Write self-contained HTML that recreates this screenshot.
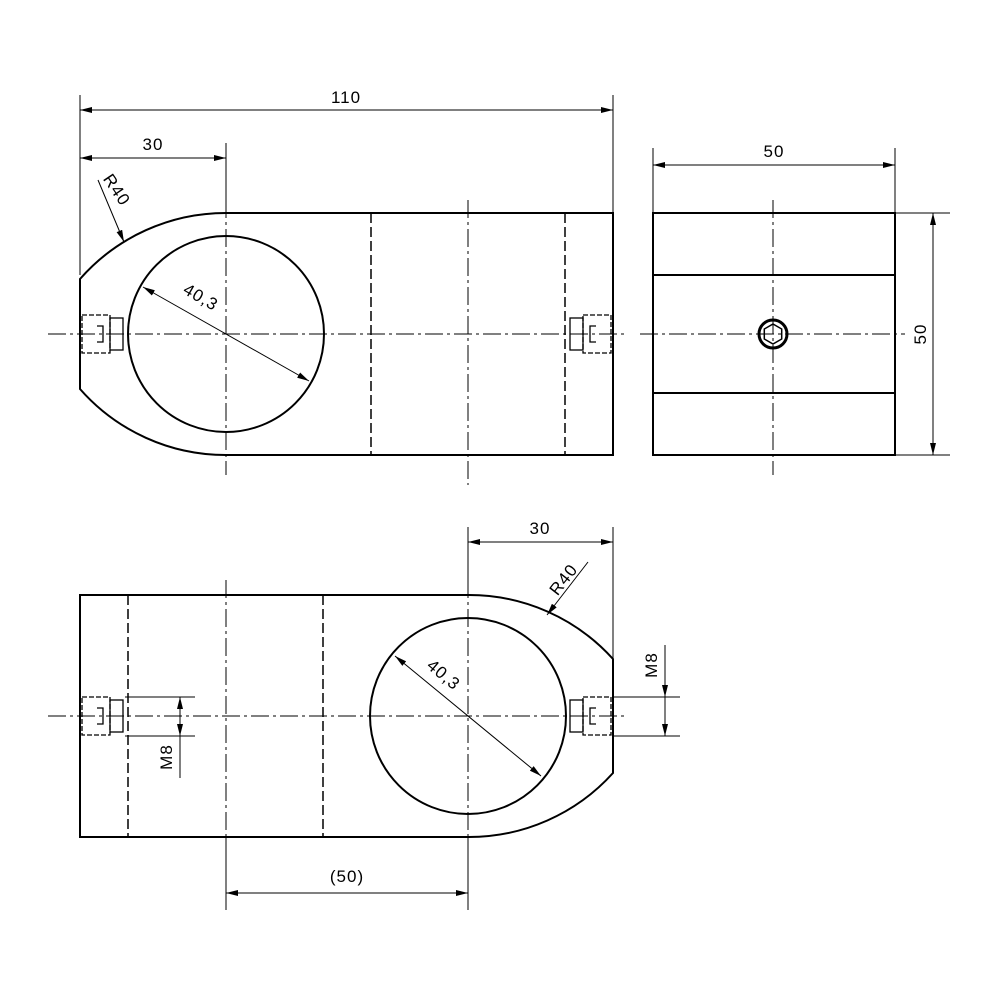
<!DOCTYPE html>
<html><head><style>html,body{margin:0;padding:0;background:#fff}svg{display:block}</style></head>
<body>
<svg width="1000" height="1000" viewBox="0 0 1000 1000" xmlns="http://www.w3.org/2000/svg" font-family="Liberation Sans, sans-serif">
<defs>
<marker id="a" viewBox="0 0 12 6" refX="12" refY="3" markerWidth="12" markerHeight="6" orient="auto-start-reverse" markerUnits="userSpaceOnUse"><path d="M0,0 L12,3 L0,6 z" fill="#000"/></marker>
</defs>
<g fill="none" stroke="#000">
<g stroke-width="1" stroke-dasharray="18,4,3,4">
<line x1="48" y1="334" x2="625" y2="334"/>
<line x1="640" y1="334" x2="905" y2="334"/>
<line x1="226" y1="200" x2="226" y2="475"/>
<line x1="468" y1="200" x2="468" y2="485"/>
<line x1="773" y1="200" x2="773" y2="475"/>
<line x1="48" y1="716" x2="625" y2="716"/>
<line x1="226" y1="580" x2="226" y2="850"/>
<line x1="468" y1="580" x2="468" y2="850"/>
</g>
<g stroke-width="2">
<path d="M80,279 A194,194 0 0 1 226,213 L613,213 L613,455 L226,455 A194,194 0 0 1 80,389 Z"/>
<circle cx="226" cy="334" r="98"/>
<rect x="653" y="213" width="242" height="242"/>
<line x1="653" y1="275" x2="895" y2="275"/>
<line x1="653" y1="393" x2="895" y2="393"/>
<circle cx="773" cy="334" r="14" stroke-width="3"/>
</g>
<path d="M773,324 L781.7,329 L781.7,339 L773,344 L764.3,339 L764.3,329 Z" stroke-width="1.5"/>
<g stroke-width="1.5" stroke-dasharray="10,4">
<line x1="371" y1="213" x2="371" y2="455"/>
<line x1="565" y1="213" x2="565" y2="455"/>
<line x1="128" y1="595" x2="128" y2="837"/>
<line x1="323" y1="595" x2="323" y2="837"/>
</g>
<g stroke-width="2">
<path d="M80,595 L468,595 A194,194 0 0 1 613,659 L613,773 A194,194 0 0 1 468,837 L80,837 Z"/>
<circle cx="468" cy="716" r="98"/>
</g>
<g stroke-width="1.3">
<rect x="82" y="315" width="28" height="38" stroke-dasharray="5,2"/>
<rect x="110" y="318" width="13" height="32"/>
<rect x="583" y="315" width="28" height="38" stroke-dasharray="5,2"/>
<rect x="570" y="318" width="13" height="32"/>
<rect x="82" y="697" width="28" height="38" stroke-dasharray="5,2"/>
<rect x="110" y="700" width="13" height="32"/>
<rect x="583" y="697" width="28" height="38" stroke-dasharray="5,2"/>
<rect x="570" y="700" width="13" height="32"/>
<path d="M97,326 h6 v16 h-6 M97,708 h6 v16 h-6 M596,326 h-6 v16 h6 M596,708 h-6 v16 h6"/>
</g>
<g stroke-width="1">
<line x1="80" y1="95" x2="80" y2="275"/>
<line x1="613" y1="95" x2="613" y2="213"/>
<line x1="226" y1="143" x2="226" y2="213"/>
<line x1="653" y1="148" x2="653" y2="213"/>
<line x1="895" y1="148" x2="895" y2="213"/>
<line x1="895" y1="213" x2="950" y2="213"/>
<line x1="895" y1="455" x2="950" y2="455"/>
<line x1="468" y1="527" x2="468" y2="595"/>
<line x1="613" y1="527" x2="613" y2="659"/>
<line x1="226" y1="837" x2="226" y2="910"/>
<line x1="468" y1="837" x2="468" y2="910"/>
<line x1="125" y1="697" x2="195" y2="697"/>
<line x1="125" y1="736" x2="195" y2="736"/>
<line x1="613" y1="697" x2="680" y2="697"/>
<line x1="613" y1="736" x2="680" y2="736"/>
<g marker-start="url(#a)" marker-end="url(#a)">
<line x1="80" y1="110" x2="613" y2="110"/>
<line x1="80" y1="158" x2="226" y2="158"/>
<line x1="653" y1="165" x2="895" y2="165"/>
<line x1="933" y1="213" x2="933" y2="455"/>
<line x1="468" y1="542" x2="613" y2="542"/>
<line x1="226" y1="893" x2="468" y2="893"/>
<line x1="143" y1="287" x2="309" y2="381"/>
<line x1="395" y1="656" x2="541" y2="776"/>
</g>
<line x1="98" y1="180" x2="124" y2="242" marker-end="url(#a)"/>
<line x1="588" y1="562" x2="547" y2="615" marker-end="url(#a)"/>
<line x1="180" y1="716" x2="180" y2="697" marker-end="url(#a)"/>
<line x1="180" y1="716" x2="180" y2="736" marker-end="url(#a)"/>
<line x1="180" y1="736" x2="180" y2="778"/>
<line x1="665" y1="645" x2="665" y2="697" marker-end="url(#a)"/>
<line x1="665" y1="716" x2="665" y2="736" marker-end="url(#a)"/>
<line x1="665" y1="716" x2="665" y2="697"/>
</g>
</g>
<g font-size="17" fill="#000" text-anchor="middle" letter-spacing="1">
<text x="346" y="103">110</text>
<text x="153" y="150">30</text>
<text x="774" y="157">50</text>
<text transform="translate(926,334) rotate(-90)">50</text>
<text x="540" y="534">30</text>
<text x="347" y="882">(50)</text>
<text transform="translate(112,193) rotate(56)">R40</text>
<text transform="translate(568,583) rotate(-52)">R40</text>
<text transform="translate(198,302) rotate(30)">40,3</text>
<text transform="translate(440,679) rotate(40)">40,3</text>
<text transform="translate(172,757) rotate(-90)">M8</text>
<text transform="translate(657,665) rotate(-90)">M8</text>
</g>
</svg>
</body></html>
